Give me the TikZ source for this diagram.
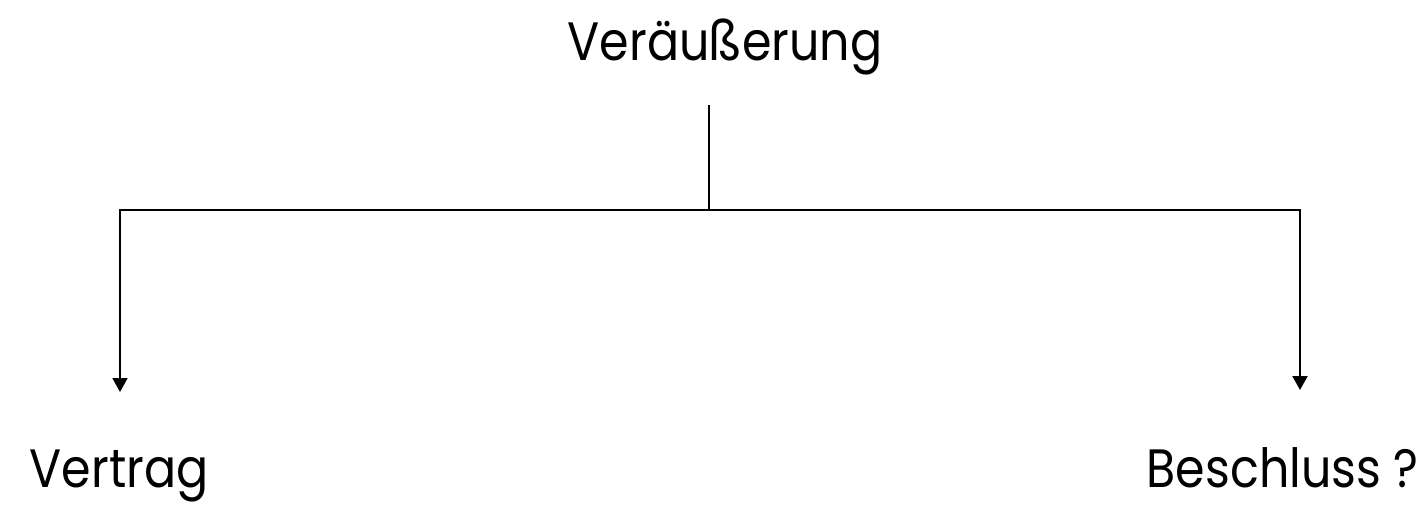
\documentclass[tikz,border=0pt]{standalone}
\usepackage{fontspec}
\setmainfont{Poppins}[FakeStretch=0.88]
\usetikzlibrary{arrows.meta,positioning}

\tikzset{
  lbl/.style={font=\fontsize{54}{60}\selectfont, inner sep=0pt, anchor=base},
  link/.style={line width=2pt, black},
  tip/.style={-{Triangle[width=15pt,length=14pt]}}
}

\begin{document}
\begin{tikzpicture}[x=1pt,y=-1pt]
  \useasboundingbox (0,0) rectangle (1427,507);

  \node[lbl] (top) at (725,60) {Veräußerung};
  \node[lbl] (vertrag) at (119,487) {Vertrag};
  \node[lbl, anchor=base east] (beschluss) at (1419,487) {Beschluss ?};

  \coordinate (stem) at (709,105);
  \coordinate (split) at (709,210);
  \coordinate (vtip) at (120,392);
  \coordinate (btip) at (1300,390);

  \draw[link] (stem) -- (split);
  \draw[link,tip] (split) -| (vtip);
  \draw[link,tip] (split) -| (btip);
\end{tikzpicture}
\end{document}
